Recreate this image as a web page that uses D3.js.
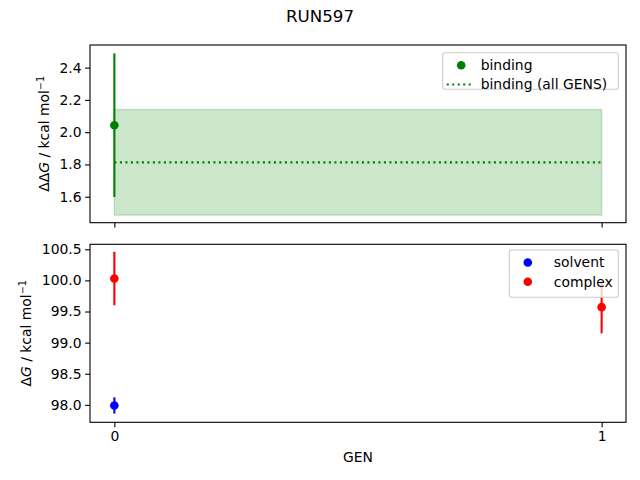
<!DOCTYPE html>
<html>
<head>
<meta charset="utf-8">
<script src="https://cdn.jsdelivr.net/npm/d3@7"></script>
<style>
  body { margin: 0; background: #fff; }
  svg { font-family: "DejaVu Sans", sans-serif; }
</style>
</head>
<body>
<div id="chart"></div>
<script>
// values
const xTicks = [0, 1];
const topTicks = [1.6, 1.8, 2.0, 2.2, 2.4];
const bottomTicks = [98.0, 98.5, 99.0, 99.5, 100.0, 100.5];

const bindingGen = [0];
const bindingVal = [2.043];
const bindingErr = [0.445];

const allGensRange = [0, 1];
const allGensVal = 1.813;
const allGensErr = 0.327;

const solventGen = [0];
const solventVal = [97.99];
const solventErr = [0.13];

const complexGen = [0, 1];
const complexVal = [100.03, 99.57];
const complexErr = [0.43, 0.42];

const width = 640, height = 480;
const left = 90, right = 626;
const fs = 13.9;

const svg = d3.select("#chart").append("svg")
    .attr("width", width)
    .attr("height", height);

// shared x
const x = d3.scaleLinear().domain([-0.05, 1.05]).range([left, right]);

// top panel: 45 -> 222.7, bottom panel: 244.3 -> 422.3
const yTop = d3.scaleLinear().domain([1.439, 2.540]).range([222.7, 45]);
const yBot = d3.scaleLinear().domain([97.72, 100.58]).range([422.3, 244.3]);

function drawAxes(y, ticks, fmt, showX) {
    const g = svg.append("g");
    const yAxis = d3.axisLeft(y).tickValues(ticks).tickFormat(d3.format(fmt))
        .tickSize(4.9).tickPadding(3.5);
    const ya = g.append("g").attr("transform", `translate(${left},0)`).call(yAxis);
    const xAxis = d3.axisBottom(x).tickValues(xTicks)
        .tickFormat(showX ? d3.format("d") : () => "")
        .tickSize(4.9).tickPadding(3.5);
    const xa = g.append("g").attr("transform", `translate(0,${y.range()[0]})`).call(xAxis);
    [ya, xa].forEach(a => {
        a.select(".domain").remove();
        a.selectAll("line").attr("stroke", "#000").attr("stroke-width", 1.1);
        a.selectAll("text").attr("fill", "#000").style("font-size", fs + "px")
            .style("font-family", "DejaVu Sans");
    });
    // spines
    svg.append("rect")
        .attr("x", left).attr("y", y.range()[1])
        .attr("width", right - left).attr("height", y.range()[0] - y.range()[1])
        .attr("fill", "none").attr("stroke", "#000").attr("stroke-width", 1.1);
}

function errorbars(y, gens, vals, errs, color) {
    svg.append("g").selectAll("line").data(gens).join("line")
        .attr("x1", d => x(d)).attr("x2", d => x(d))
        .attr("y1", (d, i) => y(vals[i] - errs[i]))
        .attr("y2", (d, i) => y(vals[i] + errs[i]))
        .attr("stroke", color).attr("stroke-width", 2.1);
}

function points(y, gens, vals, color) {
    svg.append("g").selectAll("circle").data(gens).join("circle")
        .attr("cx", d => x(d)).attr("cy", (d, i) => y(vals[i]))
        .attr("r", 4.3).attr("fill", color);
}

// ---- top panel
svg.append("rect")
    .attr("x", x(allGensRange[0]))
    .attr("y", yTop(allGensVal + allGensErr))
    .attr("width", x(allGensRange[1]) - x(allGensRange[0]))
    .attr("height", yTop(allGensVal - allGensErr) - yTop(allGensVal + allGensErr))
    .attr("fill", "green").attr("fill-opacity", 0.2)
    .attr("stroke", "green").attr("stroke-opacity", 0.2).attr("stroke-width", 1.4);

svg.append("line")
    .attr("x1", x(allGensRange[0])).attr("x2", x(allGensRange[1]))
    .attr("y1", yTop(allGensVal)).attr("y2", yTop(allGensVal))
    .attr("stroke", "green").attr("stroke-width", 2.1)
    .attr("stroke-dasharray", "2.1,3.4");

errorbars(yTop, bindingGen, bindingVal, bindingErr, "green");
points(yTop, bindingGen, bindingVal, "green");
drawAxes(yTop, topTicks, ".1f", false);

// ---- bottom panel
errorbars(yBot, solventGen, solventVal, solventErr, "blue");
points(yBot, solventGen, solventVal, "blue");
errorbars(yBot, complexGen, complexVal, complexErr, "red");
points(yBot, complexGen, complexVal, "red");
drawAxes(yBot, bottomTicks, ".1f", true);

// ---- legends
function legend(x0, y0, w, h, items) {
    const g = svg.append("g");
    g.append("rect").attr("x", x0).attr("y", y0).attr("width", w).attr("height", h)
        .attr("rx", 2.5).attr("fill", "#fff").attr("fill-opacity", 0.8)
        .attr("stroke", "#cccccc").attr("stroke-width", 1.1);
    items.forEach((it, i) => {
        const cy = y0 + 12.5 + i * 19.3;
        if (it.type === "dot") {
            g.append("circle").attr("cx", x0 + 18.5).attr("cy", cy).attr("r", 4.3).attr("fill", it.color);
        } else {
            g.append("line").attr("x1", x0 + 4).attr("x2", x0 + 28).attr("y1", cy).attr("y2", cy)
                .attr("stroke", it.color).attr("stroke-width", 2.1).attr("stroke-dasharray", "2.1,3.4");
        }
        g.append("text").attr("x", x0 + it.tx).attr("y", cy).attr("dy", "0.35em")
            .style("font-size", fs + "px").text(it.label);
    });
}
legend(442.7, 52.7, 175.6, 36.6, [
    { type: "dot", color: "green", label: "binding", tx: 38 },
    { type: "line", color: "green", label: "binding (all GENS)", tx: 38 }
]);
legend(509.3, 250, 109, 47.3, [
    { type: "dot", color: "blue", label: "solvent", tx: 44.5 },
    { type: "dot", color: "red", label: "complex", tx: 44.5 }
]);

// ---- labels
svg.append("text").attr("x", 320).attr("y", 16).attr("dy", "0.35em")
    .attr("text-anchor", "middle").style("font-size", "16.7px").text("RUN597");

svg.append("text").attr("x", (left + right) / 2).attr("y", 457).attr("dy", "0.35em")
    .attr("text-anchor", "middle").style("font-size", fs + "px").text("GEN");

function ylabel(cx, cy, prefix) {
    const t = svg.append("text")
        .attr("transform", `translate(${cx},${cy}) rotate(-90)`)
        .attr("text-anchor", "middle").style("font-size", fs + "px");
    t.append("tspan").text(prefix);
    t.append("tspan").style("font-style", "italic").text("G");
    t.append("tspan").text(" / kcal mol");
    t.append("tspan").attr("dy", -5).style("font-size", "9.7px").text("\u22121");
}
ylabel(48.5, (45 + 222.7) / 2, "\u0394\u0394");
ylabel(30.5, (244.3 + 422.3) / 2, "\u0394");
</script>
</body>
</html>
